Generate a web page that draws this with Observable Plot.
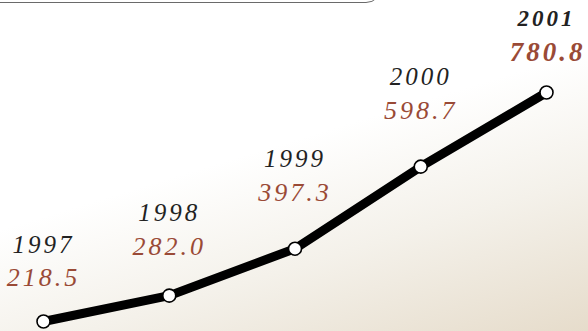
<!DOCTYPE html>
<html>
<head>
<meta charset="utf-8">
<script src="https://cdn.jsdelivr.net/npm/d3@7"></script>
<script src="https://cdn.jsdelivr.net/npm/@observablehq/plot@0.6"></script>
<style>
  html, body { margin: 0; padding: 0; }
  body {
    width: 588px; height: 331px; overflow: hidden; position: relative;
    background: linear-gradient(163deg, #ffffff 0%, #ffffff 45%, #f4f1ea 70%, #e6dccb 100%);
  }
  #box {
    position: absolute; left: -20px; top: -40px; width: 400px; height: 41px;
    border: 1.5px solid #6a6a6a; border-radius: 0 0 16px 0; background: #ffffff;
  }
  #chart { position: absolute; left: 0; top: 0; }
  #chart svg { background: transparent; overflow: visible; }
</style>
</head>
<body>
<div id="box"></div>
<div id="chart"></div>
<script>
const years = [1997, 1998, 1999, 2000, 2001];
const yearLabels = ["1997", "1998", "1999", "2000", "2001"];
const values = [218.5, 282.0, 397.3, 598.7, 780.8];
const valueLabels = ["218.5", "282.0", "397.3", "598.7", "780.8"];

const data = years.map((y, i) => ({year: y, value: values[i], yl: yearLabels[i], vl: valueLabels[i]}));
const font = "'Liberation Serif', 'DejaVu Serif', serif";
const yearColor = "#222";
const valColor = "#9a4a36";

function labels(sel, dyYear, dyVal, bold) {
  const d = data.filter(sel);
  return [
    Plot.text(d, {x: "year", y: "value", text: "yl", dy: dyYear, fontSize: bold ? 23 : 25, fontStyle: "italic", fontWeight: bold ? "bold" : "normal", fontFamily: font, fill: yearColor}),
    Plot.text(d, {x: "year", y: "value", text: "vl", dx: bold ? 1 : 0, dy: dyVal, fontSize: bold ? 27 : 26, fontStyle: "italic", fontWeight: bold ? "bold" : "normal", fontFamily: font, fill: valColor})
  ];
}

const chart = Plot.plot({
  width: 588,
  height: 331,
  marginLeft: 43,
  marginRight: 42,
  marginTop: 92,
  marginBottom: 10,
  style: {background: "transparent", overflow: "visible"},
  x: {domain: [1997, 2001], axis: null},
  y: {domain: [218.5, 780.8], axis: null},
  marks: [
    Plot.line(data, {x: "year", y: "value", stroke: "#000", strokeWidth: 9, strokeLinejoin: "round"}),
    Plot.dot(data, {x: "year", y: "value", r: 6.5, fill: "#fff", stroke: "#000", strokeWidth: 1.6}),
    ...labels(d => d.year === 1997, -77, -44, false),
    ...labels(d => d.year === 1998, -83, -49, false),
    ...labels(d => d.year === 1999 || d.year === 2000, -90, -56, false),
    ...labels(d => d.year === 2001, -74, -40, true)
  ]
});
chart.querySelectorAll("text").forEach(t => t.style.letterSpacing = "3px");
document.getElementById("chart").appendChild(chart);
</script>
</body>
</html>
